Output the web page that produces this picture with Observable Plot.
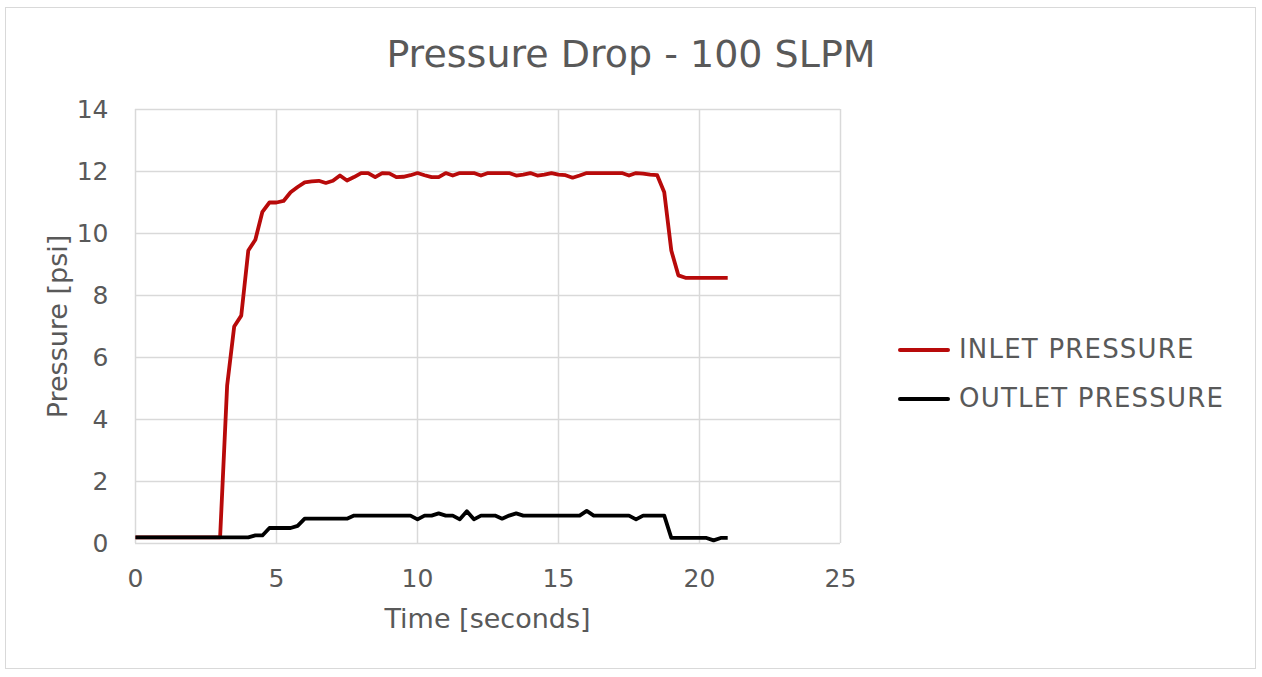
<!DOCTYPE html>
<html>
<head>
<meta charset="utf-8">
<script src="https://cdn.jsdelivr.net/npm/d3@7"></script>
<script src="https://cdn.jsdelivr.net/npm/@observablehq/plot@0.6"></script>
<style>
  html, body { margin: 0; padding: 0; background: #fff; }
  body { font-family: "DejaVu Sans", sans-serif; color: #595959; }
  #wrap { position: relative; width: 1262px; height: 677px; overflow: hidden; }
  #border { position: absolute; left: 5px; top: 7px; width: 1251px; height: 662px; border: 1.5px solid #d9d9d9; box-sizing: border-box; }
  .t { position: absolute; white-space: nowrap; line-height: 1; }
  #title { left: 0; width: 1262px; text-align: center; font-size: 38px; top: 35px; }
  #xlabel { left: 135px; width: 705px; text-align: center; font-size: 27px; top: 605px; }
  #ylabel { left: -93px; width: 300px; text-align: center; font-size: 27px; top: 312.5px; transform: rotate(-90deg); transform-origin: 150px 13.5px; }
  .leg { font-size: 26px; letter-spacing: 1.2px; left: 959px; }
  .swatch { position: absolute; left: 898px; width: 52px; height: 3.8px; border-radius: 2px; }
  #chart { position: absolute; left: 0; top: 0; }
</style>
</head>
<body>
<div id="wrap">
  <div id="border"></div>
  <div id="chart"></div>
  <div class="t" id="title">Pressure Drop - 100 SLPM</div>
  <div class="t" id="xlabel">Time [seconds]</div>
  <div class="t" id="ylabel">Pressure [psi]</div>
  <div class="swatch" id="sw1"></div>
  <div class="t leg" id="leg1" style="top:336px">INLET PRESSURE</div>
  <div class="swatch" id="sw2"></div>
  <div class="t leg" id="leg2" style="top:385px">OUTLET PRESSURE</div>
</div>
<script>
// ---- data ----
const seriesNames = ["INLET PRESSURE", "OUTLET PRESSURE"];
const seriesColors = ["#B80A0A", "#000000"];
const xTicks = [0, 5, 10, 15, 20, 25];
const yTicks = [0, 2, 4, 6, 8, 10, 12, 14];

const time = [0, 0.25, 0.5, 0.75, 1, 1.25, 1.5, 1.75, 2, 2.25, 2.5, 2.75,
  3, 3.25, 3.5, 3.75, 4, 4.25, 4.5, 4.75, 5, 5.25, 5.5, 5.75,
  6, 6.25, 6.5, 6.75, 7, 7.25, 7.5, 7.75, 8, 8.25, 8.5, 8.75,
  9, 9.25, 9.5, 9.75, 10, 10.25, 10.5, 10.75, 11, 11.25, 11.5, 11.75,
  12, 12.25, 12.5, 12.75, 13, 13.25, 13.5, 13.75, 14, 14.25, 14.5, 14.75,
  15, 15.25, 15.5, 15.75, 16, 16.25, 16.5, 16.75, 17, 17.25, 17.5, 17.75,
  18, 18.25, 18.5, 18.75, 19, 19.25, 19.5, 19.75, 20, 20.25, 20.5, 20.75, 21];

const inlet = [0.2, 0.2, 0.2, 0.2, 0.2, 0.2, 0.2, 0.2, 0.2, 0.2, 0.2, 0.2,
  0.2, 5.1, 7.0, 7.35, 9.45, 9.8, 10.7, 11.0, 11.0, 11.05, 11.33, 11.5,
  11.65, 11.68, 11.7, 11.63, 11.7, 11.87, 11.71, 11.82, 11.95, 11.95, 11.82, 11.95,
  11.94, 11.82, 11.83, 11.88, 11.95, 11.88, 11.82, 11.82, 11.95, 11.87, 11.95, 11.95,
  11.95, 11.87, 11.95, 11.95, 11.95, 11.95, 11.87, 11.9, 11.95, 11.87, 11.9, 11.95,
  11.9, 11.88, 11.8, 11.87, 11.95, 11.95, 11.95, 11.95, 11.95, 11.95, 11.87, 11.95,
  11.93, 11.9, 11.88, 11.33, 9.45, 8.65, 8.57, 8.57, 8.57, 8.57, 8.57, 8.57, 8.57];

const outlet = [0.2, 0.2, 0.2, 0.2, 0.2, 0.2, 0.2, 0.2, 0.2, 0.2, 0.2, 0.2,
  0.2, 0.2, 0.2, 0.2, 0.2, 0.26, 0.26, 0.5, 0.5, 0.5, 0.5, 0.57,
  0.8, 0.8, 0.8, 0.8, 0.8, 0.8, 0.8, 0.9, 0.9, 0.9, 0.9, 0.9,
  0.9, 0.9, 0.9, 0.9, 0.78, 0.9, 0.9, 0.97, 0.9, 0.9, 0.78, 1.04,
  0.78, 0.9, 0.9, 0.9, 0.8, 0.9, 0.97, 0.9, 0.9, 0.9, 0.9, 0.9,
  0.9, 0.9, 0.9, 0.9, 1.05, 0.9, 0.9, 0.9, 0.9, 0.9, 0.9, 0.78,
  0.9, 0.9, 0.9, 0.9, 0.18, 0.18, 0.18, 0.18, 0.18, 0.18, 0.1, 0.18, 0.18];

// ---- build table ----
const rows = [];
[inlet, outlet].forEach((vals, k) => {
  vals.forEach((v, i) => rows.push({ t: time[i], v, s: seriesNames[k] }));
});

document.getElementById("sw1").style.background = seriesColors[0];
document.getElementById("sw1").style.top = (350 - 1.9) + "px";
document.getElementById("sw2").style.background = seriesColors[1];
document.getElementById("sw2").style.top = (399 - 1.9) + "px";

const chart = Plot.plot({
  width: 1262,
  height: 677,
  marginLeft: 135,
  marginRight: 422,
  marginTop: 109,
  marginBottom: 134,
  style: { fontFamily: "DejaVu Sans, sans-serif", fontSize: "25px", color: "#595959", background: "transparent", overflow: "visible" },
  x: { domain: [0, 25] },
  y: { domain: [0, 14] },
  color: { domain: seriesNames, range: seriesColors },
  marks: [
    Plot.gridX(xTicks, { stroke: "#d9d9d9", strokeOpacity: 1, strokeWidth: 1.5 }),
    Plot.gridY(yTicks, { stroke: "#d9d9d9", strokeOpacity: 1, strokeWidth: 1.5 }),
    Plot.axisX(xTicks, { tickSize: 0, tickPadding: 26, label: null, fill: "#595959" }),
    Plot.axisY(yTicks, { tickSize: 0, tickPadding: 27, label: null, fill: "#595959" }),
    Plot.line(rows, { x: "t", y: "v", z: "s", stroke: "s", strokeWidth: 3.8, strokeLinejoin: "round", strokeLinecap: "butt" })
  ]
});
document.getElementById("chart").appendChild(chart);
</script>
</body>
</html>
